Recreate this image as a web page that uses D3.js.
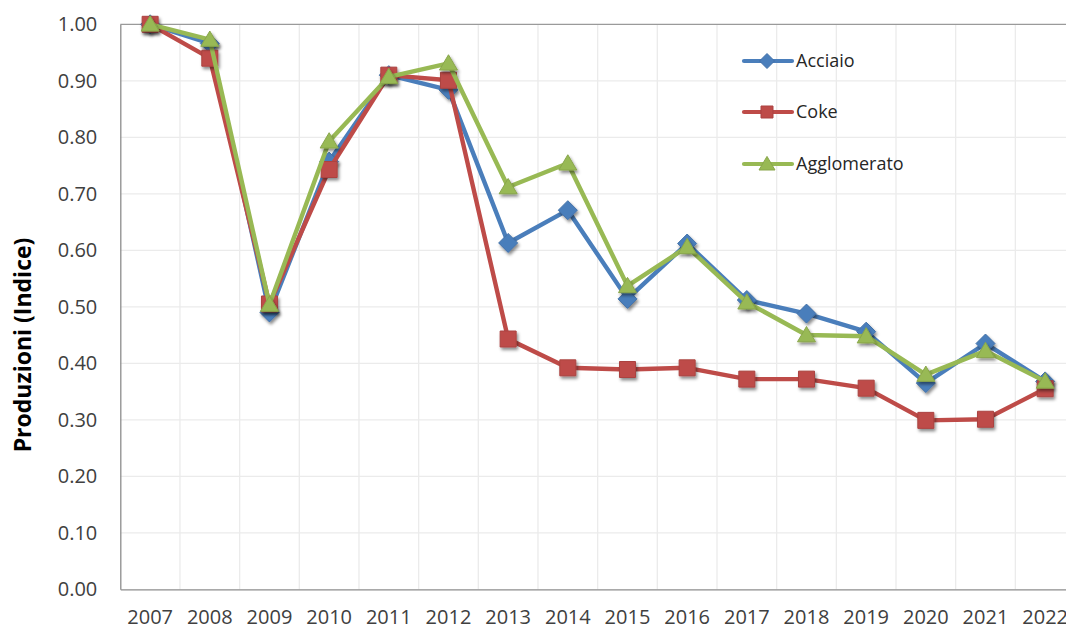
<!DOCTYPE html>
<html>
<head>
<meta charset="utf-8">
<script src="https://cdn.jsdelivr.net/npm/d3@7"></script>
<style>
html,body{margin:0;padding:0;background:#fff;overflow:hidden;}
svg{display:block;}
</style>
</head>
<body>
<svg id="chart" width="1066" height="630"></svg>
<script>
const years = ["2007","2008","2009","2010","2011","2012","2013","2014","2015","2016","2017","2018","2019","2020","2021","2022"];
const acciaio = [1.00,0.966,0.490,0.757,0.910,0.884,0.613,0.671,0.514,0.612,0.512,0.488,0.456,0.365,0.435,0.368];
const coke = [1.00,0.940,0.505,0.743,0.910,0.901,0.443,0.392,0.389,0.392,0.372,0.372,0.356,0.299,0.301,0.355];
const agglomerato = [1.00,0.973,0.504,0.793,0.907,0.931,0.712,0.754,0.537,0.606,0.508,0.450,0.448,0.380,0.422,0.368];
const yTicks = [0,0.1,0.2,0.3,0.4,0.5,0.6,0.7,0.8,0.9,1.0];
const seriesNames = ["Acciaio","Coke","Agglomerato"];

const series = [
  {name: seriesNames[0], values: acciaio, color: "#4a7ebb", marker: "diamond"},
  {name: seriesNames[1], values: coke, color: "#be4b48", marker: "square"},
  {name: seriesNames[2], values: agglomerato, color: "#98b954", marker: "triangle"}
];

const svg = d3.select("#chart");
const pLeft = 120.3, pRight = 1075, pTop = 24.3, pBottom = 589.3;
const font = "'Open Sans', 'Noto Sans', sans-serif";

const x = d3.scaleBand().domain(years).range([pLeft, pRight]).padding(0);
const y = d3.scaleLinear().domain([0, 1]).range([pBottom, pTop]);

const defs = svg.append("defs");
const f = defs.append("filter").attr("id","shadow").attr("x","-50%").attr("y","-50%").attr("width","200%").attr("height","200%");
f.append("feDropShadow").attr("dx",1.5).attr("dy",2.5).attr("stdDeviation",1.6).attr("flood-color","#000").attr("flood-opacity",0.45);

// gridlines
const grid = svg.append("g");
grid.selectAll("line.h").data(yTicks.filter(d => d > 0 && d < 1)).join("line")
  .attr("x1", pLeft).attr("x2", pRight).attr("y1", d => y(d)).attr("y2", d => y(d))
  .attr("stroke", "#ebebeb").attr("stroke-width", 1.3);
grid.selectAll("line.v").data(years.slice(1)).join("line")
  .attr("x1", d => x(d)).attr("x2", d => x(d)).attr("y1", pTop).attr("y2", pBottom)
  .attr("stroke", "#ebebeb").attr("stroke-width", 1.3);

// top border
svg.append("line").attr("x1", pLeft).attr("x2", pRight).attr("y1", y(1)).attr("y2", y(1)).attr("stroke", "#9a9a9a").attr("stroke-width", 1.2);

// axes
const yAxis = d3.axisLeft(y).tickValues(yTicks).tickFormat(d3.format(".2f")).tickSize(0).tickPadding(23);
const gy = svg.append("g").attr("transform", `translate(${pLeft},0)`).call(yAxis);
gy.select(".domain").attr("stroke", "#8c8c8c").attr("stroke-width", 1.3);
gy.selectAll("text").attr("font-family", font).attr("font-size", 20).attr("fill", "#404040");

const xAxis = d3.axisBottom(x).tickSize(0).tickPadding(21);
const gx = svg.append("g").attr("transform", `translate(0,${pBottom})`).call(xAxis);
gx.select(".domain").attr("stroke", "#8c8c8c").attr("stroke-width", 1.3);
gx.selectAll("text").attr("font-family", font).attr("font-size", 20).attr("fill", "#404040");

// y title
svg.append("text")
  .attr("transform", `translate(31,345) rotate(-90)`)
  .attr("text-anchor", "middle")
  .attr("font-family", font).attr("font-weight", "bold").attr("font-size", 23)
  .attr("fill", "#000")
  .text("Produzioni (Indice)");

function markerPath(type, s) {
  if (type === "diamond") return `M0,${-s}L${s},0L0,${s}L${-s},0Z`;
  if (type === "square") return `M${-s*0.8},${-s*0.8}H${s*0.8}V${s*0.8}H${-s*0.8}Z`;
  return `M0,${-s*0.95}L${s},${s*0.75}L${-s},${s*0.75}Z`;
}

const line = d3.line().x((d,i) => x(years[i]) + x.bandwidth()/2).y(d => y(d));

series.forEach(s => {
  const g = svg.append("g");
  g.append("path").datum(s.values).attr("d", line)
    .attr("fill", "none").attr("stroke", s.color).attr("stroke-width", 4.4).attr("stroke-linejoin", "round");
  g.selectAll("path.m").data(s.values).join("path")
    .attr("class", "m")
    .attr("transform", (d,i) => `translate(${x(years[i]) + x.bandwidth()/2},${y(d)})`)
    .attr("d", markerPath(s.marker, s.marker === "diamond" ? 9.5 : (s.marker === "square" ? 10 : 9)))
    .attr("fill", s.color)
    .attr("stroke", d3.color(s.color).darker(0.3))
    .attr("stroke-width", 1)
    .attr("filter", "url(#shadow)");
});

// legend
const legY = [61, 112, 164];
series.forEach((s, i) => {
  const g = svg.append("g").attr("transform", `translate(0,${legY[i]})`);
  g.append("line").attr("x1", 744).attr("x2", 792).attr("y1", 0).attr("y2", 0)
    .attr("stroke", s.color).attr("stroke-width", 4.2).attr("stroke-linecap", "round");
  g.append("path").attr("transform", `translate(767,0)`)
    .attr("d", markerPath(s.marker, s.marker === "triangle" ? 8 : 7.5))
    .attr("fill", s.color).attr("stroke", d3.color(s.color).darker(0.3)).attr("stroke-width", 1);
  g.append("text").attr("x", 796).attr("y", 0).attr("dy", "0.35em")
    .attr("font-family", font).attr("font-size", 18).attr("fill", "#262626")
    .text(s.name);
});
</script>
</body>
</html>
